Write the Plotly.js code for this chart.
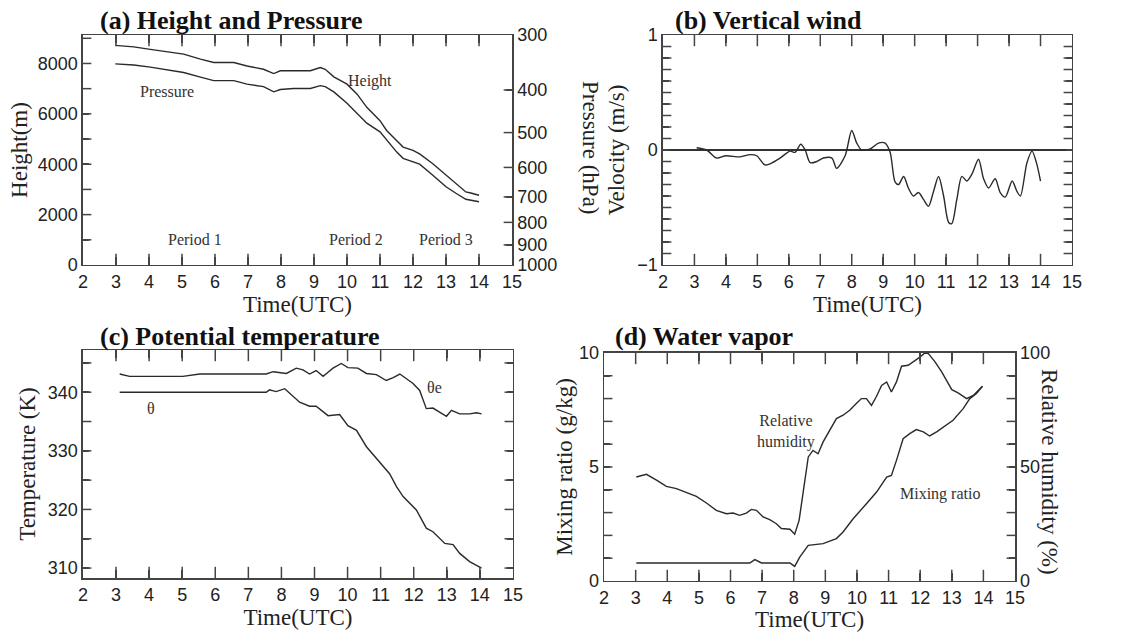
<!DOCTYPE html>
<html>
<head>
<meta charset="utf-8">
<script src="https://cdn.plot.ly/plotly-3.0.1.min.js"></script>
<style>html,body{margin:0;padding:0;background:#fff;}#chart{width:1146px;height:632px;}</style>
</head>
<body>
<div id="chart"></div>
<script>
// ---------- (a) Height and Pressure ----------
const heightTime = [2.98,3.54,4.04,4.55,5.05,5.56,5.96,6.57,6.97,7.47,7.78,7.98,8.38,8.89,9.19,9.34,9.6,10.0,10.3,10.6,11.0,11.2,11.5,11.7,12.0,12.2,12.6,13.0,13.3,13.6,13.75,14.0];
const heightM = [8720,8660,8560,8470,8370,8170,8040,8040,7900,7770,7600,7710,7710,7710,7840,7770,7470,7180,6790,6260,5730,5340,4940,4680,4550,4410,4020,3560,3230,2900,2860,2770];
const pressTime = [2.98,3.54,4.04,4.55,5.05,5.56,5.96,6.57,6.97,7.47,7.78,7.98,8.38,8.89,9.19,9.34,9.6,10.0,10.3,10.6,11.0,11.2,11.5,11.7,12.0,12.2,12.6,13.0,13.3,13.6,14.0];
const pressHPa = [349,351,355,360,365,374,381,381,388,393,404,399,397,397,391,393,404,429,452,476,498,520,553,572,582,590,625,664,687,709,718];
const pressTicks = [300,400,500,600,700,800,900,1000];

// ---------- (b) Vertical wind ----------
const windTime = [3.07,3.39,3.7,4.0,4.45,4.77,4.98,5.24,5.4,5.72,6.04,6.2,6.38,6.52,6.68,6.89,7.1,7.37,7.52,7.79,8.0,8.16,8.32,8.59,8.85,9.06,9.22,9.38,9.49,9.65,9.8,9.96,10.12,10.28,10.44,10.6,10.76,10.92,11.08,11.18,11.34,11.5,11.66,11.82,12.03,12.19,12.35,12.56,12.72,12.88,13.1,13.25,13.36,13.57,13.73,13.87,14.0];
const windVel = [0.02,0,-0.07,-0.05,-0.06,-0.04,-0.05,-0.13,-0.12,-0.07,-0.01,-0.02,0.05,0,-0.11,-0.1,-0.07,-0.07,-0.16,-0.05,0.17,0.06,0,0.01,0.06,0.06,-0.02,-0.28,-0.3,-0.23,-0.33,-0.4,-0.37,-0.43,-0.49,-0.36,-0.23,-0.4,-0.63,-0.64,-0.43,-0.23,-0.27,-0.21,-0.08,-0.25,-0.33,-0.25,-0.37,-0.41,-0.27,-0.36,-0.4,-0.11,-0.01,-0.11,-0.27];

// ---------- (c) Potential temperature ----------
const thetaETime = [3.11,3.41,5.02,5.53,7.54,7.75,8.15,8.45,8.65,8.85,9.05,9.26,9.41,9.56,9.81,10.01,10.31,10.57,10.87,11.17,11.38,11.58,11.78,11.98,12.18,12.38,12.58,12.79,12.99,13.14,13.39,13.69,13.9,14.05];
const thetaE = [343.1,342.7,342.7,343.1,343.1,343.5,343.2,344.1,343.8,343.1,343.7,342.7,343.4,344.1,344.9,344.2,344.1,343.2,343.0,342.0,342.5,343.1,342.3,341.5,340.3,337.2,337.3,336.6,335.9,336.9,336.3,336.3,336.5,336.3];
const thetaTime = [3.11,7.54,7.64,7.84,8.1,8.25,8.55,8.85,9.05,9.41,9.76,10.01,10.27,10.57,10.97,11.27,11.48,11.68,12.08,12.38,12.58,12.94,13.19,13.39,13.69,14.05];
const theta = [340,340,340.4,340.1,340.6,339.8,338.3,337.6,337.6,336.0,336.2,334.3,333.5,330.7,328.1,326.1,323.9,322.2,319.9,316.8,316.2,314.2,314.0,312.5,311.1,310];

// ---------- (d) Water vapor ----------
const mixTime = [3.02,6.61,6.77,6.98,7.88,8.03,8.19,8.46,8.93,9.35,9.56,9.88,10.3,10.62,10.94,11.09,11.25,11.46,11.67,11.88,12.1,12.3,12.52,12.83,13.04,13.36,13.57,13.78,13.97];
const mixRatio = [0.79,0.79,0.94,0.79,0.79,0.64,1.05,1.56,1.64,1.86,2.15,2.73,3.39,3.9,4.56,4.63,5.29,6.24,6.46,6.64,6.54,6.36,6.54,6.83,7.05,7.56,8.0,8.22,8.54];
const rhTime = [3.02,3.34,3.66,3.97,4.29,4.61,4.92,5.24,5.55,5.87,6.08,6.29,6.5,6.66,6.82,7.03,7.24,7.45,7.61,7.88,8.03,8.17,8.3,8.46,8.61,8.77,8.93,9.14,9.35,9.56,9.77,9.98,10.14,10.3,10.46,10.62,10.78,10.94,11.09,11.25,11.41,11.62,11.78,11.99,12.15,12.26,12.47,12.68,13.0,13.2,13.47,13.68,13.97];
const rhPct = [45.6,46.8,44.2,41.5,40.5,38.6,37.1,34.2,31.0,29.5,29.8,28.8,29.8,31.4,31.0,28.1,26.9,25.1,23.0,22.7,20.5,26.6,39.0,54.4,57.3,55.8,61.0,66.1,71.2,72.7,74.9,77.8,80.0,80.0,77.0,81.0,85.8,87.3,82.9,87.3,94.2,94.6,96.1,98.2,100,99.7,96.1,91.7,83.9,82.5,80.0,81.4,85.4];

// ---------- inner tick positions (tick values) ----------
const hourTicks = [3,4,5,6,7,8,9,10,11,12,13,14];
const heightTickVals = [1000,2000,3000,4000,5000,6000,7000,8000,9000];
const pressInnerTicks = [400,500,600,700,800,900];
const velTickVals = [-0.9,-0.8,-0.7,-0.6,-0.5,-0.4,-0.3,-0.2,-0.1,0.1,0.2,0.3,0.4,0.5,0.6,0.7,0.8,0.9];
const tempTickVals = [310,315,320,325,330,335,340,345];
const mixTickVals = [1,2,3,4,5,6,7,8,9];

// ---------- axis ranges ----------
const xRange = [2, 15];
const heightRange = [0, 9130];
const velRange = [-1, 1];
const tempRange = [308.3, 347.2];
const mixRange = [0, 10];
const rhRange = [0, 100];

// ---------- styles ----------
const LINE = {color: '#2a2a2a', width: 1.4};
const AX = '#444';
const sans = 'Liberation Sans, Arial, sans-serif';
const serif = 'Liberation Serif, Times New Roman, serif';
const tickFont = {family: sans, size: 18, color: '#222'};
const titleFont = {family: serif, size: 23, color: '#222'};

function xAxis(domain, anchor) {
  return {
    domain: domain, anchor: anchor, range: xRange, dtick: 1,
    ticks: 'inside', ticklen: 8, tickwidth: 1.5, tickcolor: AX,
    showline: true, linecolor: AX, linewidth: 1.5, mirror: 'ticks',
    showgrid: false, zeroline: false, tickfont: tickFont,
    title: {text: 'Time(UTC)', font: titleFont, standoff: 0}
  };
}

// tick marks drawn as clipped line markers through the axes' own scales
function tickMarks(xs, ys, xa, ya, symbol, size) {
  return {x: xs, y: ys, xaxis: xa, yaxis: ya, mode: 'markers', cliponaxis: true,
    hoverinfo: 'skip', showlegend: false,
    marker: {symbol: symbol, size: size, color: AX, line: {width: 1.5, color: AX}}};
}
function xTicks(xa, ya, yr) {
  return tickMarks(hourTicks.concat(hourTicks), hourTicks.map(() => yr[0]).concat(hourTicks.map(() => yr[1])), xa, ya, 'line-ns', 16);
}
function yTicks(vals, xa, ya, sides) {
  let xs = [], ys = [];
  sides.forEach(s => { vals.forEach(v => { xs.push(s); ys.push(v); }); });
  return tickMarks(xs, ys, xa, ya, 'line-ew', 12);
}

const data = [
  {x: heightTime, y: heightM, xaxis: 'x', yaxis: 'y', mode: 'lines', line: LINE, name: 'Height'},
  {x: pressTime, y: pressHPa, xaxis: 'x', yaxis: 'y2', mode: 'lines', line: LINE, name: 'Pressure'},
  {x: windTime, y: windVel, xaxis: 'x2', yaxis: 'y3', mode: 'lines', line: {color: '#2a2a2a', width: 1.4, shape: 'spline', smoothing: 0.8}, name: 'Vertical wind'},
  {x: thetaETime, y: thetaE, xaxis: 'x3', yaxis: 'y4', mode: 'lines', line: LINE, name: 'θe'},
  {x: thetaTime, y: theta, xaxis: 'x3', yaxis: 'y4', mode: 'lines', line: LINE, name: 'θ'},
  {x: mixTime, y: mixRatio, xaxis: 'x4', yaxis: 'y5', mode: 'lines', line: LINE, name: 'Mixing ratio'},
  {x: rhTime, y: rhPct, xaxis: 'x4', yaxis: 'y6', mode: 'lines', line: LINE, name: 'Relative humidity'},
  xTicks('x', 'y', heightRange),
  xTicks('x2', 'y3', velRange),
  xTicks('x3', 'y4', tempRange),
  xTicks('x4', 'y5', mixRange),
  yTicks(heightTickVals, 'x', 'y', [xRange[0]]),
  yTicks(pressInnerTicks, 'x', 'y2', [xRange[1]]),
  yTicks(velTickVals, 'x2', 'y3', xRange),
  yTicks(tempTickVals, 'x3', 'y4', xRange),
  yTicks(mixTickVals, 'x4', 'y5', xRange)
];

const dA = [0.5807, 0.9446];
const dC = [0.0854, 0.4462];
const dD = [0.0807, 0.4415];

const layout = {
  width: 1146, height: 632, autosize: false,
  margin: {l: 0, r: 0, t: 0, b: 0},
  paper_bgcolor: '#fff', plot_bgcolor: 'rgba(0,0,0,0)',
  showlegend: false,
  font: {family: sans, color: '#222'},
  xaxis: xAxis([0.0724, 0.4468], 'y'),
  yaxis: {
    domain: dA, anchor: 'x', range: heightRange, dtick: 2000,
    ticks: 'inside', ticklen: 6, tickwidth: 1.5, tickcolor: AX,
    minor: {dtick: 1000, ticks: 'inside', ticklen: 6, tickwidth: 1.5, tickcolor: AX},
    showline: true, linecolor: AX, linewidth: 1.5, mirror: false,
    showgrid: false, zeroline: false, tickfont: tickFont,
    title: {text: 'Height(m)', font: titleFont, standoff: 4}
  },
  yaxis2: {
    domain: dA, anchor: 'x', overlaying: 'y', side: 'right', type: 'log',
    range: [3, Math.log10(300)],
    tickmode: 'array', tickvals: pressTicks, ticktext: pressTicks.map(String),
    ticks: 'inside', ticklen: 6, tickwidth: 1.5, tickcolor: AX,
    showline: true, linecolor: AX, linewidth: 1.5,
    showgrid: false, zeroline: false, tickfont: tickFont
  },
  xaxis2: xAxis([0.5785, 0.9354], 'y3'),
  yaxis3: {
    domain: dA, anchor: 'x2', range: velRange, tickvals: [-1, 0, 1],
    ticks: 'inside', ticklen: 6, tickwidth: 1.5, tickcolor: AX,
    minor: {dtick: 0.1, tick0: 0, ticks: 'inside', ticklen: 6, tickwidth: 1.5, tickcolor: AX},
    showline: true, linecolor: AX, linewidth: 1.5, mirror: 'ticks',
    showgrid: false, zeroline: true, zerolinecolor: '#333', zerolinewidth: 1.4,
    tickfont: tickFont,
    title: {text: 'Velocity (m/s)', font: titleFont, standoff: 6}
  },
  xaxis3: xAxis([0.0724, 0.4476], 'y4'),
  yaxis4: {
    domain: dC, anchor: 'x3', range: tempRange, dtick: 10, tick0: 300,
    ticks: 'inside', ticklen: 6, tickwidth: 1.5, tickcolor: AX,
    minor: {dtick: 5, tick0: 300, ticks: 'inside', ticklen: 6, tickwidth: 1.5, tickcolor: AX},
    showline: true, linecolor: AX, linewidth: 1.5, mirror: 'ticks',
    showgrid: false, zeroline: false, tickfont: tickFont,
    title: {text: 'Temperature (K)', font: titleFont, standoff: 6}
  },
  xaxis4: xAxis([0.5271, 0.8857], 'y5'),
  yaxis5: {
    domain: dD, anchor: 'x4', range: mixRange, dtick: 5,
    ticks: 'inside', ticklen: 6, tickwidth: 1.5, tickcolor: AX,
    minor: {dtick: 1, ticks: 'inside', ticklen: 6, tickwidth: 1.5, tickcolor: AX},
    showline: true, linecolor: AX, linewidth: 1.5, mirror: false,
    showgrid: false, zeroline: false, tickfont: tickFont,
    title: {text: 'Mixing ratio (g/kg)', font: titleFont, standoff: 0}
  },
  yaxis6: {
    domain: dD, anchor: 'x4', overlaying: 'y5', side: 'right', range: rhRange, dtick: 50,
    ticks: 'inside', ticklen: 6, tickwidth: 1.5, tickcolor: AX,
    minor: {dtick: 10, ticks: 'inside', ticklen: 6, tickwidth: 1.5, tickcolor: AX},
    showline: true, linecolor: AX, linewidth: 1.5,
    showgrid: false, zeroline: false, tickfont: tickFont
  },
  annotations: [
    {text: '<b>(a) Height and Pressure</b>', xref: 'paper', yref: 'paper', x: 0.0855, y: 0.9668, xanchor: 'left', yanchor: 'middle', showarrow: false, font: {family: serif, size: 26, color: '#111'}},
    {text: '<b>(b) Vertical wind</b>', xref: 'paper', yref: 'paper', x: 0.5873, y: 0.9668, xanchor: 'left', yanchor: 'middle', showarrow: false, font: {family: serif, size: 26, color: '#111'}},
    {text: '<b>(c) Potential temperature</b>', xref: 'paper', yref: 'paper', x: 0.0855, y: 0.4668, xanchor: 'left', yanchor: 'middle', showarrow: false, font: {family: serif, size: 26, color: '#111'}},
    {text: '<b>(d) Water vapor</b>', xref: 'paper', yref: 'paper', x: 0.5349, y: 0.4668, xanchor: 'left', yanchor: 'middle', showarrow: false, font: {family: serif, size: 26, color: '#111'}},
    {text: 'Pressure (hPa)', xref: 'paper', yref: 'paper', x: 0.5157, y: 0.7658, textangle: 90, xanchor: 'center', yanchor: 'middle', showarrow: false, font: titleFont},
    {text: 'Relative humidity (%)', xref: 'paper', yref: 'paper', x: 0.9154, y: 0.2532, textangle: 90, xanchor: 'center', yanchor: 'middle', showarrow: false, font: titleFont},
    {text: 'Pressure', xref: 'x', yref: 'y', x: 4.55, y: 6900, showarrow: false, font: {family: serif, size: 16, color: '#333'}},
    {text: 'Height', xref: 'x', yref: 'y', x: 10.7, y: 7300, showarrow: false, font: {family: serif, size: 16, color: '#333'}},
    {text: 'Period 1', xref: 'x', yref: 'y', x: 5.4, y: 1030, showarrow: false, font: {family: serif, size: 16, color: '#333'}},
    {text: 'Period 2', xref: 'x', yref: 'y', x: 10.27, y: 1030, showarrow: false, font: {family: serif, size: 16, color: '#333'}},
    {text: 'Period 3', xref: 'x', yref: 'y', x: 13.0, y: 1030, showarrow: false, font: {family: serif, size: 16, color: '#333'}},
    {text: 'θe', xref: 'x3', yref: 'y4', x: 12.63, y: 340.85, showarrow: false, font: {family: serif, size: 16, color: '#333'}},
    {text: 'θ', xref: 'x3', yref: 'y4', x: 4.07, y: 337.3, showarrow: false, font: {family: serif, size: 16, color: '#333'}},
    {text: 'Relative<br>humidity', xref: 'x4', yref: 'y5', x: 7.77, y: 6.54, showarrow: false, font: {family: serif, size: 16, color: '#333'}},
    {text: 'Mixing ratio', xref: 'x4', yref: 'y5', x: 12.62, y: 3.83, showarrow: false, font: {family: serif, size: 16, color: '#333'}}
  ]
};

Plotly.newPlot('chart', data, layout, {displayModeBar: false, staticPlot: true});
</script>
</body>
</html>
